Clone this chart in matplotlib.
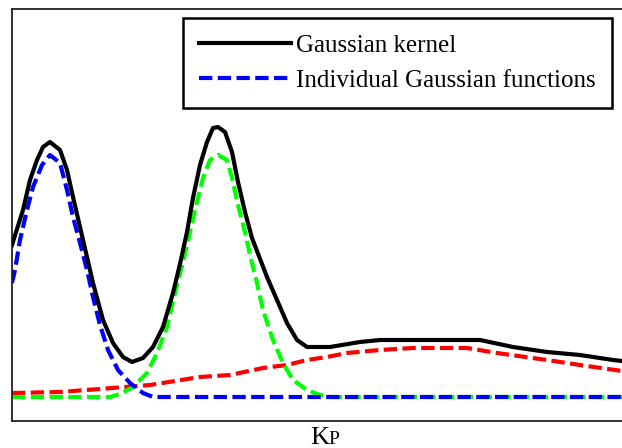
import matplotlib
matplotlib.use('Agg')
import matplotlib.pyplot as plt

plt.rcParams['font.family'] = ['Liberation Serif', 'DejaVu Serif']

# sampled curves (x, y) in arbitrary units
kernel_x = [0, 1.1, 1.8, 2.5, 3.1, 3.8, 4.8, 5.5, 6.1, 6.8, 7.5, 8.1, 9.1, 10.1, 11.1,
            12.0, 13.1, 14.1, 15.1, 16.1, 16.8, 17.5, 18.1, 18.8, 19.5, 20.1, 20.6,
            21.3, 22.0, 22.6, 23.3, 24.0, 25.5, 26.5, 27.5, 28.5, 29.5, 31.8,
            34.8, 36.8, 46.8, 50.1, 53.5, 56.8, 60.1, 61]
kernel_y = [15.2, 18.7, 21.7, 23.7, 25.0, 25.5, 24.7, 22.7, 20.0, 17.0, 14.0, 11.4, 7.7,
            5.4, 4.0, 3.5, 3.9, 5.0, 7.0, 10.4, 13.3, 16.5, 19.9, 23.2, 25.5, 26.9, 27.0,
            26.5, 24.5, 21.5, 18.5, 15.9, 12.0, 9.7, 7.4, 5.7, 5.0, 5.0,
            5.5, 5.7, 5.7, 5.0, 4.5, 4.2, 3.7, 3.6]

g1_x = [0, 0.3, 0.8, 1.5, 2.1, 3.0, 3.8, 4.8, 5.5, 6.1, 6.8, 7.5, 8.1, 8.8, 9.6,
        10.6, 11.8, 13.1, 14.1, 61]
g1_y = [11.4, 12.7, 15.7, 18.7, 21.0, 23.2, 24.2, 23.4, 20.7, 18.0, 15.4, 12.7, 10.0,
        7.2, 4.7, 2.7, 1.4, 0.4, 0.0, 0.0]

g2_x = [0, 9.8, 10.8, 12.1, 13.5, 14.5, 15.5, 16.3, 17.1, 17.8, 18.5, 19.1, 19.8,
        20.6, 21.5, 22.0, 22.6, 23.3, 23.8, 24.5, 25.1, 26.1, 27.1, 28.1, 29.5,
        30.8, 31.8, 61]
g2_y = [0.0, 0.0, 0.3, 1.0, 2.4, 4.4, 7.0, 10.4, 13.5, 16.5, 19.5, 21.9, 23.7,
        24.2, 23.7, 21.9, 19.2, 16.5, 14.2, 11.4, 8.7, 5.7, 3.4, 1.7, 0.7,
        0.2, 0.0, 0.0]

g3_x = [0, 4.8, 8.8, 13.8, 18.8, 21.8, 25.1, 27.5, 29.5, 31.5, 33.5, 36.8, 40.1,
        45.5, 48.5, 53.5, 56.8, 61]
g3_y = [0.4, 0.5, 0.8, 1.2, 2.0, 2.2, 2.9, 3.2, 3.7, 4.0, 4.4, 4.7, 4.9,
        4.9, 4.4, 3.7, 3.2, 2.6]

fig = plt.figure(figsize=(6.22, 4.48), dpi=100)
ax = fig.add_axes([12 / 622, 27 / 448, 1 - 12 / 622, 412 / 448])

dash = (3.2, 1.3)
ax.plot(g3_x, g3_y, color='#ff0000', lw=3, dashes=dash)
ax.plot(g2_x, g2_y, color='#00ff00', lw=3, dashes=dash)
ax.plot(g1_x, g1_y, color='#0000ff', lw=3, dashes=dash,
        label='Individual Gaussian functions')
ax.plot(kernel_x, kernel_y, color='black', lw=3, label='Gaussian kernel', zorder=5)

ax.set_xlim(0, 61)
ax.set_ylim(-2.4, 38.8)
ax.set_xticks([])
ax.set_yticks([])
ax.spines['right'].set_visible(False)
for s in ['left', 'top', 'bottom']:
    ax.spines[s].set_linewidth(1.3)
    ax.spines[s].set_color('#222222')

h, l = ax.get_legend_handles_labels()
leg = ax.legend(h[::-1], l[::-1], loc='upper right', bbox_to_anchor=(0.984, 0.978),
                fontsize=18, fancybox=False, framealpha=1, edgecolor='black',
                handlelength=3.7, handletextpad=0.2, borderaxespad=0,
                labelspacing=0.5, borderpad=0.65)
leg.get_frame().set_linewidth(1.8)

fig.text(310 / 622, 4 / 448, 'K', fontsize=19, va='baseline', ha='left')
fig.text(328 / 622, 4 / 448, 'P', fontsize=14, va='baseline', ha='left')

fig.savefig('out.png', dpi=100)
